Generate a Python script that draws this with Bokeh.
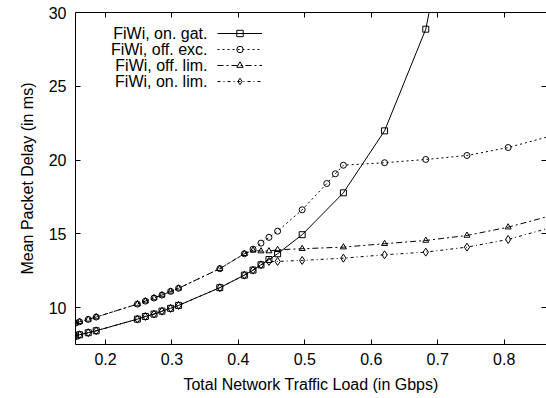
from bokeh.plotting import figure
from bokeh.models import (LinearAxis, FixedTicker, Legend, LegendItem, Label,
                          Range1d)
from bokeh.embed import file_html
from bokeh.resources import INLINE

# ---------------- data ----------------
x_label = "Total Network Traffic Load (in Gbps)"
y_label = "Mean Packet Delay (in ms)"
x_ticks = [0.2, 0.3, 0.4, 0.5, 0.6, 0.7, 0.8]
y_ticks = [10, 15, 20, 25, 30]

series_names = ["FiWi, on. gat.", "FiWi, off. exc.", "FiWi, off. lim.", "FiWi, on. lim."]

on_gat_x = [0.155, 0.161, 0.174, 0.186, 0.248, 0.260, 0.273, 0.285, 0.298, 0.310,
            0.372, 0.409, 0.422, 0.434, 0.446, 0.459, 0.496, 0.558, 0.620, 0.682, 0.744]
on_gat_y = [8.07, 8.16, 8.30, 8.43, 9.22, 9.40, 9.56, 9.76, 9.95, 10.15,
            11.35, 12.20, 12.54, 12.90, 13.26, 13.65, 14.94, 17.78, 21.98, 28.87, 42.9]

off_exc_x = [0.155, 0.161, 0.174, 0.186, 0.248, 0.260, 0.273, 0.285, 0.298, 0.310,
             0.372, 0.409, 0.422, 0.434, 0.446, 0.459, 0.496, 0.533, 0.546, 0.558,
             0.620, 0.682, 0.744, 0.806, 0.868]
off_exc_y = [8.95, 9.04, 9.20, 9.36, 10.24, 10.44, 10.65, 10.85, 11.10, 11.31,
             12.64, 13.65, 13.96, 14.37, 14.76, 15.18, 16.63, 18.41, 19.07, 19.65,
             19.82, 20.04, 20.31, 20.85, 21.60]

off_lim_x = [0.155, 0.161, 0.174, 0.186, 0.248, 0.260, 0.273, 0.285, 0.298, 0.310,
             0.372, 0.409, 0.422, 0.434, 0.446, 0.459, 0.496, 0.558, 0.620, 0.682,
             0.744, 0.806, 0.868]
off_lim_y = [8.95, 9.04, 9.20, 9.36, 10.24, 10.44, 10.65, 10.85, 11.10, 11.31,
             12.64, 13.65, 13.88, 13.83, 13.83, 13.92, 13.99, 14.10, 14.33, 14.55,
             14.89, 15.45, 16.20]

on_lim_x = [0.155, 0.161, 0.174, 0.186, 0.248, 0.260, 0.273, 0.285, 0.298, 0.310,
            0.372, 0.409, 0.422, 0.434, 0.446, 0.459, 0.496, 0.558, 0.620, 0.682,
            0.744, 0.806, 0.868]
on_lim_y = [8.07, 8.16, 8.30, 8.43, 9.22, 9.40, 9.56, 9.76, 9.95, 10.15,
            11.35, 12.20, 12.54, 12.90, 13.13, 13.13, 13.20, 13.35, 13.58, 13.76,
            14.10, 14.62, 15.40]

# ---------------- figure ----------------
FONT = "Liberation Sans"
FS = "16px"

p = figure(width=546, height=398,
           x_range=Range1d(0.15485, 0.8637), y_range=Range1d(7.5, 30),
           output_backend="svg", toolbar_location=None,
           min_border_left=75, min_border_top=12, min_border_bottom=54,
           min_border_right=0)
p.outline_line_color = None
p.xgrid.visible = False
p.ygrid.visible = False
p.background_fill_color = "white"
p.border_fill_color = "white"


def style_axis(ax, ticks, show_labels=True, show_line=True):
    ax.ticker = FixedTicker(ticks=ticks)
    ax.minor_tick_line_color = None
    ax.major_tick_in = 5
    ax.major_tick_out = 0
    ax.major_tick_line_color = "black"
    ax.major_tick_line_width = 1
    ax.axis_line_color = "black" if show_line else None
    ax.axis_line_width = 1
    if show_labels:
        ax.major_label_text_font = FONT
        ax.major_label_text_font_size = FS
        ax.major_label_text_color = "black"
    else:
        ax.major_label_text_font_size = "1px"
        ax.major_label_text_color = None
        ax.major_label_text_alpha = 0
        ax.major_label_standoff = 0


xa = p.xaxis[0]
style_axis(xa, x_ticks)
xa.major_label_standoff = 8
xa.axis_label = x_label
xa.axis_label_text_font = FONT
xa.axis_label_text_font_size = FS
xa.axis_label_text_font_style = "normal"
xa.axis_label_text_color = "black"
xa.axis_label_standoff = 8

ya = p.yaxis[0]
style_axis(ya, y_ticks)
ya.major_label_standoff = 9
ya.axis_label = y_label
ya.axis_label_text_font = FONT
ya.axis_label_text_font_size = FS
ya.axis_label_text_font_style = "normal"
ya.axis_label_text_color = "black"
ya.axis_label_standoff = 10

top_ax = LinearAxis()
style_axis(top_ax, x_ticks, show_labels=False)
p.add_layout(top_ax, "above")

right_ax = LinearAxis()
style_axis(right_ax, y_ticks, show_labels=False, show_line=False)
p.add_layout(right_ax, "right")

# ---------------- series ----------------
specs = [
    (on_gat_x, on_gat_y, "solid", "square", 6),
    (off_exc_x, off_exc_y, "2 3", "circle", 6),
    (off_lim_x, off_lim_y, "6 3 2 3", "triangle", 6),
    (on_lim_x, on_lim_y, "3 3 1 3", "diamond", 8),
]

items = []
for (xs, ys, dash, marker, size), name in zip(specs, series_names):
    lr = p.line(xs, ys, line_color="black", line_width=1, line_dash=dash)
    sr = p.scatter(xs, ys, marker=marker, size=size, fill_color=None,
                   line_color="black", line_width=1)
    items.append(LegendItem(label=" ", renderers=[lr, sr]))

legend = Legend(items=items, location=(142, 255), orientation="vertical",
                glyph_width=45, glyph_height=16, label_width=0, label_height=16,
                label_standoff=0, spacing=0, padding=0, margin=0,
                border_line_color=None, background_fill_alpha=0,
                label_text_font_size="1px", label_text_color=None,
                label_text_alpha=0)
p.add_layout(legend)

legend_rows_y = [28.58, 27.49, 26.41, 25.33]
for name, yy in zip(series_names, legend_rows_y):
    p.add_layout(Label(x=0.3535, y=yy, text=name, text_align="right",
                       text_baseline="middle", text_font=FONT,
                       text_font_size=FS, text_color="black"))

open("out.html", "w").write(file_html(p, INLINE))
